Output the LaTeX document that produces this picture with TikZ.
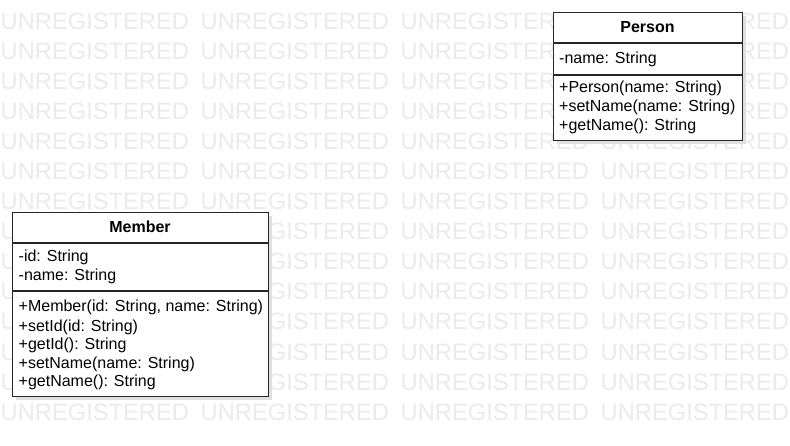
\documentclass[tikz,border=0pt]{standalone}
\usepackage{fontspec}
\setmainfont{Liberation Sans}
\usetikzlibrary{shadows}
\begin{document}
\begin{tikzpicture}[x=1pt,y=-1pt,
  wm/.style={anchor=base west,inner sep=0pt,font=\fontsize{23.7}{24}\selectfont,text=black!8},
  cls/.style={draw=black!85,line width=1.2pt,fill=white,inner sep=0pt,anchor=north west,
    drop shadow={shadow xshift=3pt,shadow yshift=-3pt,fill=black!12,opacity=1}},
  divline/.style={draw=black!85,line width=1.2pt},
  ttl/.style={anchor=base,inner sep=0pt,font=\fontsize{16}{18}\selectfont\bfseries},
  txt/.style={anchor=base west,inner sep=0pt,font=\fontsize{16}{18}\selectfont}]
\useasboundingbox (0,0) rectangle (790,446);
\fill[white] (0,0) rectangle (790,446);
% watermark
\foreach \r in {0,...,13}{
  \foreach \c in {0,...,3}{
    \node[wm] (w\r-\c) at (200*\c+0.5, 30+30*\r) {UNREGISTERED};
  }
}
% Person class
\node[cls,minimum width=189pt,minimum height=128pt] (person) at (553,12) {};
\draw[divline] ([yshift=-31pt]person.north west) -- ([yshift=-31pt]person.north east);
\draw[divline] ([yshift=-63pt]person.north west) -- ([yshift=-63pt]person.north east);
\node[ttl] (ptitle) at (647.5,33) {Person};
\node[txt] (pa1) at (559,64) {-name: String};
\node[txt] (pm1) at (559,93) {+Person(name: String)};
\node[txt] (pm2) at (559,112) {+setName(name: String)};
\node[txt] (pm3) at (559,131) {+getName(): String};
% Member class
\node[cls,minimum width=256pt,minimum height=184pt] (member) at (12,212) {};
\draw[divline] ([yshift=-31pt]member.north west) -- ([yshift=-31pt]member.north east);
\draw[divline] ([yshift=-79pt]member.north west) -- ([yshift=-79pt]member.north east);
\node[ttl] (mtitle) at (140,233) {Member};
\node[txt] (ma1) at (18.5,262) {-id: String};
\node[txt] (ma2) at (18.5,281) {-name: String};
\node[txt] (mm1) at (18.5,312) {+Member(id: String, name: String)};
\node[txt] (mm2) at (18.5,331) {+setId(id: String)};
\node[txt] (mm3) at (18.5,349.5) {+getId(): String};
\node[txt] (mm4) at (18.5,368) {+setName(name: String)};
\node[txt] (mm5) at (18.5,386.5) {+getName(): String};
\end{tikzpicture}
\end{document}
